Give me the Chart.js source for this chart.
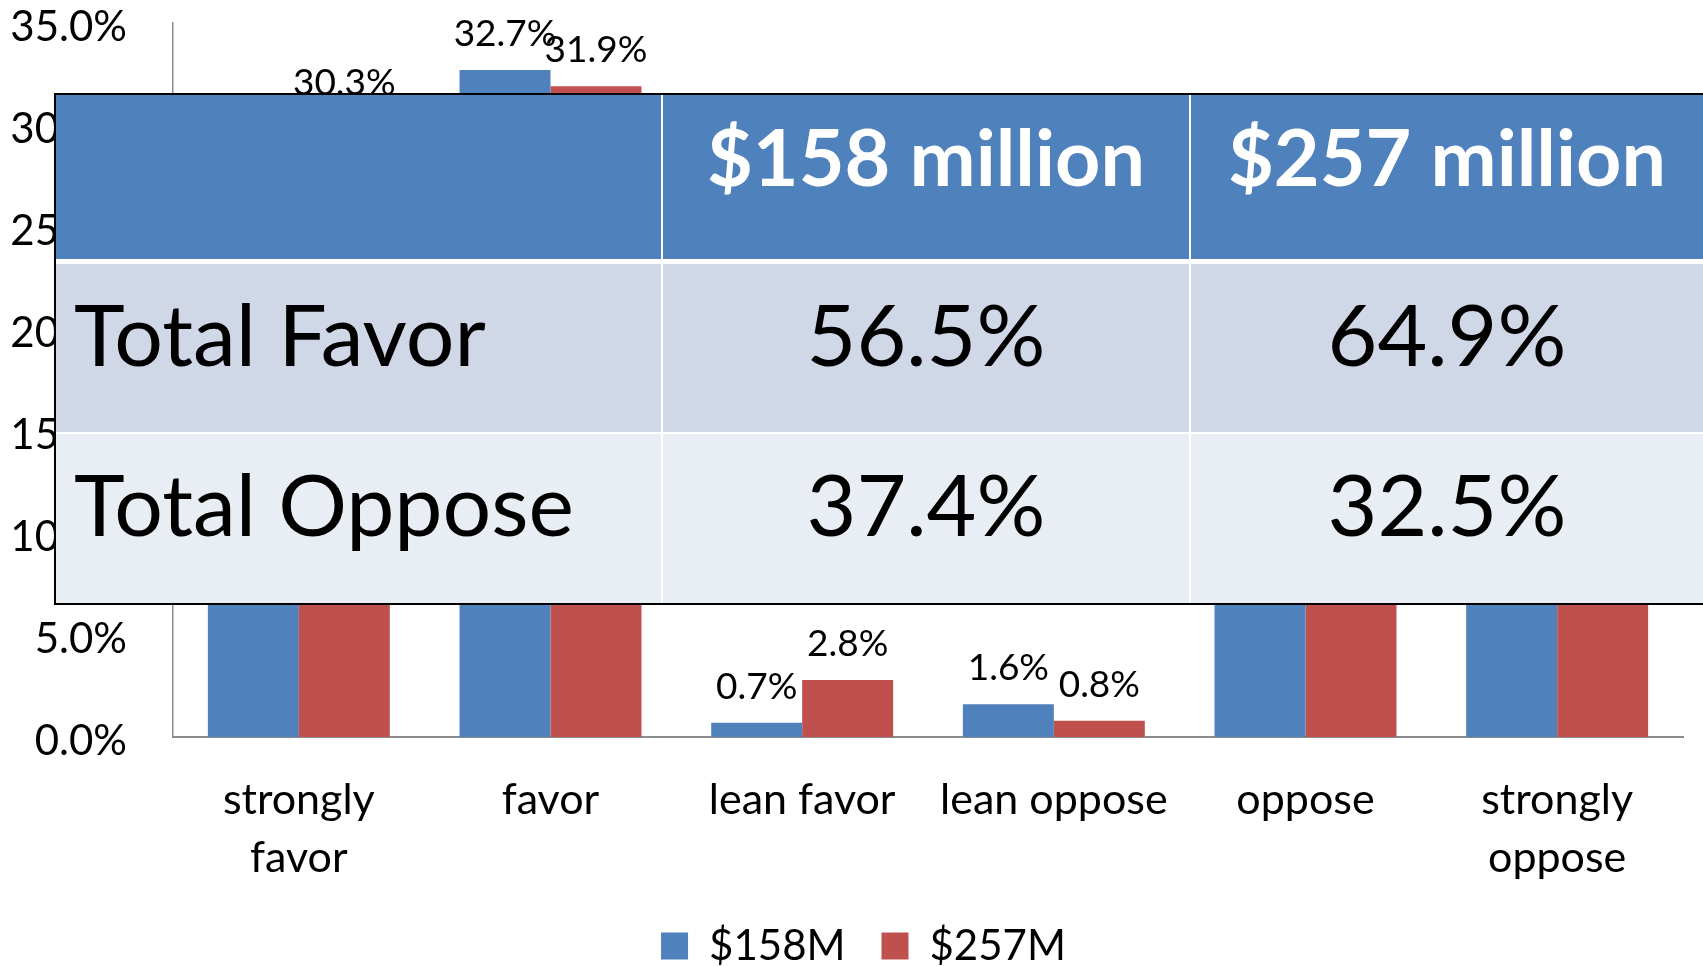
<!DOCTYPE html>
<html>
<head>
<meta charset="utf-8">
<script src="https://cdn.jsdelivr.net/npm/chart.js@4/dist/chart.umd.min.js"></script>
<style>
  html, body { margin: 0; padding: 0; background: #fff; }
  body { width: 1703px; height: 966px; overflow: hidden; position: relative; font-family: Lato, sans-serif; }
  #wrap { position: absolute; left: 0; top: 0; width: 1703px; height: 977px; }
  #summary {
    position: absolute; left: 54px; top: 93px;
    display: grid;
    grid-template-columns: 605px 526px 512px;
    column-gap: 2px;
    background: #fff;
    border: 2px solid #000; border-right: none;
  }
  #summary div { display: flex; align-items: center; justify-content: center; box-sizing: border-box; }
  #summary .head { height: 164px; margin-bottom: 5px; background: #4F81BD; color: #fff; font-weight: bold; font-size: 79px; padding-bottom: 44px; }
  #summary .row0 { height: 168px; margin-bottom: 2px; background: #D0D8E8; }
  #summary .row1 { height: 169px; background: #E9EDF4; }
  #summary .body { color: #000; font-size: 86px; padding-bottom: 32px; }
  #summary .first { justify-content: flex-start; padding-left: 18px; }
</style>
</head>
<body>
<div id="wrap"><canvas id="chart" width="1703" height="977"></canvas></div>
<div id="summary"></div>
<script>
const categories = [["strongly", "favor"], "favor", "lean favor", "lean oppose", "oppose", ["strongly", "oppose"]];
const seriesNames = ["$158M", "$257M"];
const values158 = [23.1, 32.7, 0.7, 1.6, 15.8, 20.0];
const values257 = [30.3, 31.9, 2.8, 0.8, 14.4, 17.3];
const seriesColors = ["#4F81BD", "#C0504D"];
const yMin = 0, yMax = 35, yStep = 5;

const tableHeader = ["", "$158 million", "$257 million"];
const tableRowLabels = ["Total Favor", "Total Oppose"];
const total158 = ["56.5%", "37.4%"];
const total257 = ["64.9%", "32.5%"];

// summary table laid over the chart
const table = document.getElementById("summary");
tableHeader.forEach((text, i) => {
  const cell = document.createElement("div");
  cell.className = "head" + (i === 0 ? " first" : "");
  cell.textContent = text;
  table.appendChild(cell);
});
tableRowLabels.forEach((label, r) => {
  [label, total158[r], total257[r]].forEach((text, i) => {
    const cell = document.createElement("div");
    cell.className = "body row" + r + (i === 0 ? " first" : "");
    cell.textContent = text;
    table.appendChild(cell);
  });
});

// value labels above each bar
const valueLabels = {
  id: "valueLabels",
  afterDatasetsDraw(chart) {
    const ctx = chart.ctx;
    ctx.save();
    ctx.font = "37px Lato";
    ctx.fillStyle = "#000";
    ctx.textAlign = "center";
    ctx.textBaseline = "alphabetic";
    chart.data.datasets.forEach((ds, i) => {
      chart.getDatasetMeta(i).data.forEach((bar, j) => {
        ctx.fillText(ds.data[j].toFixed(1) + "%", bar.x, bar.y - 24);
      });
    });
    ctx.restore();
  },
};

// legend sits a little right of the canvas centre
const legendShift = {
  id: "legendShift",
  afterLayout(chart) {
    chart.legend.left += 22;
    chart.legend.right += 22;
  },
};

Chart.defaults.font.family = "Lato";
Chart.defaults.color = "#000";

new Chart(document.getElementById("chart"), {
  type: "bar",
  data: {
    labels: categories,
    datasets: [
      { label: seriesNames[0], data: values158, backgroundColor: seriesColors[0] },
      { label: seriesNames[1], data: values257, backgroundColor: seriesColors[1] },
    ],
  },
  options: {
    responsive: false,
    animation: false,
    layout: { padding: { top: 23, left: 0, right: 20, bottom: 0 } },
    datasets: { bar: { categoryPercentage: 0.723, barPercentage: 1.0 } },
    scales: {
      x: {
        grid: { display: false, drawTicks: true, tickLength: 34 },
        border: { display: true, color: "#8c8c8c", width: 2 },
        ticks: { font: { size: 43, lineHeight: 1.35 }, padding: 0, maxRotation: 0, autoSkip: false },
        afterFit: (scale) => { scale.height = 152; },
      },
      y: {
        min: yMin,
        max: yMax,
        grid: { display: false, drawTicks: true, tickLength: 46 },
        border: { display: true, color: "#8c8c8c", width: 1.5 },
        ticks: {
          stepSize: yStep,
          font: { size: 42, lineHeight: 1 },
          padding: 0,
          labelOffset: 4,
          callback: (v) => v.toFixed(1) + "%",
        },
        afterFit: (scale) => { scale.width = 173; },
      },
    },
    plugins: {
      legend: {
        position: "bottom",
        labels: { boxWidth: 27, boxHeight: 27, padding: 36, font: { size: 42 } },
      },
      tooltip: { enabled: false },
    },
  },
  plugins: [valueLabels, legendShift],
});
</script>
</body>
</html>
